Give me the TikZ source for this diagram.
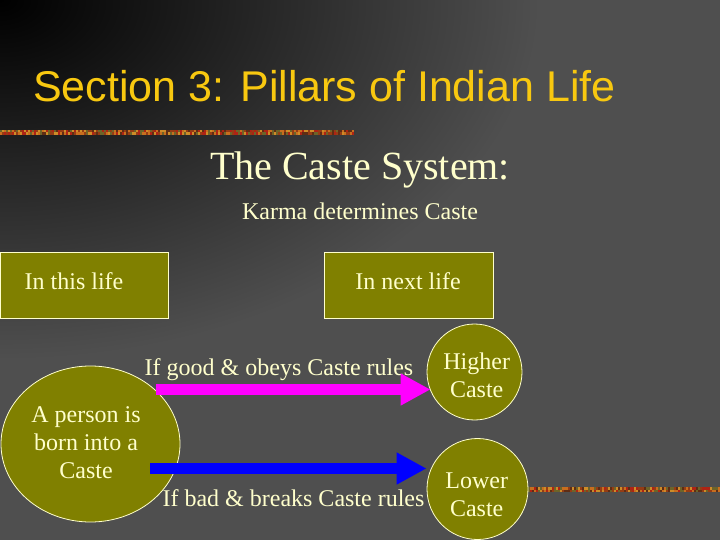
\documentclass[tikz,border=0pt]{standalone}
\usepackage{fontspec}
\setmainfont{Liberation Serif}
\newfontfamily\titlefont{Liberation Sans}
\usetikzlibrary{arrows.meta,shapes.geometric}
\definecolor{bgbase}{RGB}{79,79,79}
\definecolor{olivefill}{RGB}{128,128,0}
\definecolor{cream}{RGB}{255,255,204}
\definecolor{titleyellow}{RGB}{248,200,16}
\definecolor{magarrow}{RGB}{255,0,255}
\definecolor{bluearrow}{RGB}{0,0,255}
\definecolor{strip0}{RGB}{205,140,40}
\definecolor{strip1}{RGB}{150,60,20}
\definecolor{strip2}{RGB}{175,35,20}
\definecolor{strip3}{RGB}{110,100,40}
\definecolor{strip4}{RGB}{95,45,20}
\definecolor{strip5}{RGB}{200,110,30}
\tikzset{
  olivebox/.style={draw=cream, line width=0.8pt, fill=olivefill, rectangle, inner sep=0pt},
  oliveround/.style={draw=cream, line width=0.8pt, fill=olivefill, ellipse, inner sep=0pt},
  txt/.style={text=cream, inner sep=0pt, font=\fontsize{24}{28}\selectfont},
  ctxt/.style={txt, align=center},
  bigarrow/.style={line width=11pt, -{Triangle[length=30pt,width=30pt]}},
}
\begin{document}
\begin{tikzpicture}[x=1pt,y=-1pt]
\useasboundingbox (0,0) rectangle (720,540);
\begin{scope}
  \clip (0,0) rectangle (720,540);
  \fill[bgbase] (0,0) rectangle (720,540);
  \shade[inner color=black, outer color=bgbase] (0,0) ellipse [x radius=540pt, y radius=360pt];
\end{scope}
% decorative strips
\pgfmathsetseed{7}
\foreach \r in {0,1} {
  \foreach \i in {0,...,176} {
    \pgfmathrandominteger{\c}{0}{5}
    \fill[strip\c] (\i*2,130+\r*2.5) rectangle (\i*2+2,132.5+\r*2.5);
  }
  \foreach \i in {0,...,95} {
    \pgfmathrandominteger{\c}{0}{5}
    \fill[strip\c] (528+\i*2,487+\r*2.5) rectangle (530+\i*2,489.5+\r*2.5);
  }
}
% titles
\node[anchor=base west, inner sep=0pt, text=titleyellow, font=\titlefont\fontsize{43}{43}\selectfont] (title) at (33,101.5) {Section 3: Pillars of Indian Life};
\node[anchor=base, inner sep=0pt, text=cream, font=\fontsize{40}{40}\selectfont] (subtitle) at (360,179.3) {The Caste System:};
\node[anchor=base, txt] (karma) at (360,219) {Karma determines Caste};
% boxes
\node[olivebox, minimum width=168pt, minimum height=66pt] (thislife) at (84,285) {};
\node[anchor=base, txt] (thislifet) at (74,289.3) {In this life};
\node[olivebox, minimum width=169pt, minimum height=66pt] (nextlife) at (408.5,285) {};
\node[anchor=base, txt] (nextlifet) at (408,289.3) {In next life};
% circles
\node[oliveround, minimum width=179pt, minimum height=156pt] (person) at (90.5,444) {};
\node[ctxt] (persont) at (86,443.1) {A person is\\born into a\\Caste};
\node[oliveround, minimum width=95pt, minimum height=96pt] (higher) at (474.5,372) {};
\node[ctxt] (highert) at (476.7,375.1) {Higher\\Caste};
\node[oliveround, minimum width=101pt, minimum height=101pt] (lower) at (477.5,489) {};
\node[ctxt] (lowert) at (476.7,495.1) {Lower\\Caste};
% labels
\node[anchor=base, txt] (goodt) at (279,375) {If good \& obeys Caste rules};
\node[anchor=base, txt] (badt) at (293.5,506) {If bad \& breaks Caste rules};
% arrows
\coordinate (gstart) at (156,389.5);
\coordinate (bstart) at (150,468.5);
\draw[bigarrow, magarrow] (gstart) -- ([xshift=4pt]gstart -| higher.west);
\draw[bigarrow, bluearrow] (bstart) -- (bstart -| lower.west);
\end{tikzpicture}
\end{document}
